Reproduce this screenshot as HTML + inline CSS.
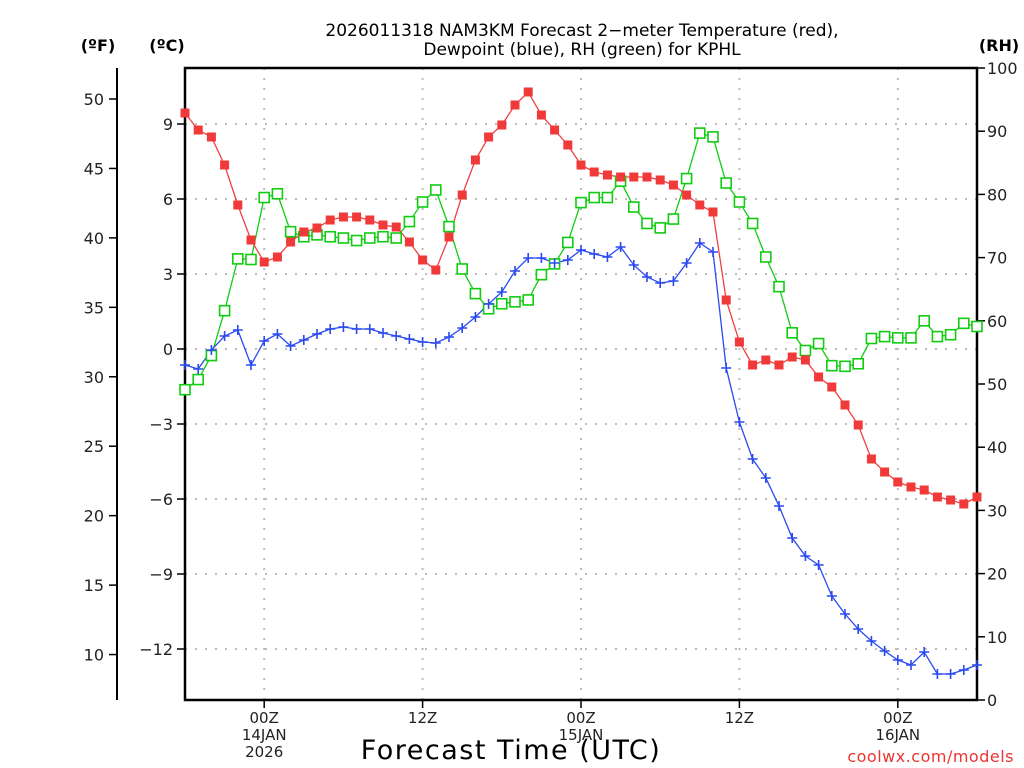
<!DOCTYPE html>
<html><head><meta charset="utf-8"><style>
html,body{margin:0;padding:0;background:#fff;}
svg{display:block;font-family:"DejaVu Sans","Liberation Sans",sans-serif;}
</style></head><body>
<svg id="chart" width="1024" height="768" viewBox="0 0 1024 768" xmlns="http://www.w3.org/2000/svg">
<g id="grid"></g>
<g id="axes"></g>
<g id="series"></g>
<text x="582" y="36" font-size="17" text-anchor="middle">2026011318 NAM3KM Forecast 2−meter Temperature (red),</text>
<text x="582" y="55" font-size="17" text-anchor="middle">Dewpoint (blue), RH (green) for KPHL</text>
<text x="98" y="51" font-size="16" font-weight="bold" text-anchor="middle">(ºF)</text>
<text x="167" y="51" font-size="16" font-weight="bold" text-anchor="middle">(ºC)</text>
<text x="999" y="51" font-size="16" font-weight="bold" text-anchor="middle">(RH)</text>
<text x="511" y="759" font-size="27" text-anchor="middle" letter-spacing="1.5">Forecast Time (UTC)</text>
<text x="1014" y="762" font-size="16" fill="#e33" text-anchor="end" letter-spacing="0.5">coolwx.com/models</text>
</svg>
<script>
const hours = [0,1,2,3,4,5,6,7,8,9,10,11,12,13,14,15,16,17,18,19,20,21,22,23,24,25,26,27,28,29,30,31,32,33,34,35,36,37,38,39,40,41,42,43,44,45,46,47,48,49,50,51,52,53,54,55,56,57,58,59,60];
const tempC = [9.44,8.76,8.48,7.36,5.76,4.36,3.48,3.68,4.28,4.68,4.84,5.16,5.28,5.28,5.16,4.96,4.88,4.28,3.56,3.16,4.48,6.16,7.56,8.48,8.96,9.76,10.28,9.36,8.76,8.16,7.36,7.08,6.96,6.88,6.88,6.88,6.76,6.56,6.16,5.76,5.48,1.96,0.28,-0.64,-0.44,-0.64,-0.32,-0.44,-1.12,-1.52,-2.24,-3.04,-4.4,-4.92,-5.32,-5.52,-5.64,-5.92,-6.04,-6.2,-5.92];
const dewC = [-0.64,-0.8,-0.04,0.52,0.76,-0.64,0.32,0.6,0.12,0.36,0.6,0.8,0.88,0.8,0.8,0.64,0.52,0.4,0.28,0.24,0.48,0.84,1.28,1.8,2.28,3.12,3.64,3.64,3.44,3.56,3.96,3.8,3.68,4.08,3.36,2.88,2.64,2.72,3.44,4.24,3.88,-0.76,-2.92,-4.4,-5.16,-6.28,-7.56,-8.28,-8.64,-9.88,-10.6,-11.2,-11.68,-12.08,-12.44,-12.64,-12.12,-13.0,-13.0,-12.84,-12.64];
const rh = [49.1,50.7,54.5,61.6,69.8,69.7,79.5,80.1,74.1,73.3,73.6,73.3,73.1,72.7,73.1,73.3,73.1,75.7,78.8,80.7,74.9,68.2,64.3,61.9,62.7,63.0,63.3,67.3,69.0,72.4,78.7,79.5,79.5,82.1,78.0,75.4,74.7,76.1,82.5,89.7,89.1,81.8,78.8,75.4,70.1,65.4,58.1,55.3,56.4,52.9,52.8,53.2,57.2,57.5,57.3,57.3,60.0,57.5,57.8,59.6,59.1];
const cTicks = [9,6,3,0,-3,-6,-9,-12];
const fTicks = [50,45,40,35,30,25,20,15,10];
const rhTicks = [0,10,20,30,40,50,60,70,80,90,100];
const xTickHours = [6,18,30,42,54];
const xTickLabels = [["00Z","14JAN","2026"],["12Z"],["00Z","15JAN"],["12Z"],["00Z","16JAN"]];

const L=185,R=977,T=68,B=700;
const xS = h => L + (R-L)*h/60;
const yC = c => 349 - 25*c;
const yF = f => yC((f-32)*5/9);
const yRH = v => B - (B-T)*v/100;
const NS="http://www.w3.org/2000/svg";
function mk(tag, attrs, parent){const e=document.createElementNS(NS,tag);for(const k in attrs)e.setAttribute(k,attrs[k]);parent.appendChild(e);return e;}
const grid=document.getElementById('grid'), axes=document.getElementById('axes'), ser=document.getElementById('series');

cTicks.forEach(c=>{
  const g=mk('line',{x1:L,x2:R,y1:yC(c),y2:yC(c),stroke:'#bbb','stroke-width':2,'stroke-dasharray':'2 8'},grid);
  
  
  const t=mk('line',{x1:L-8,x2:L,y1:yC(c),y2:yC(c),stroke:'#000','stroke-width':1.5},axes);
  
  
  const lb=mk('text',{x:L-12,y:yC(c)+6,'font-size':16,'text-anchor':'end',fill:'#222'},axes);
  lb.textContent = c<0 ? '−'+Math.abs(c) : String(c);
  
  
});
xTickHours.forEach((h,i)=>{
  const g=mk('line',{x1:xS(h),x2:xS(h),y1:T,y2:B,stroke:'#bbb','stroke-width':2,'stroke-dasharray':'2 8'},grid);
  
  
  const t=mk('line',{x1:xS(h),x2:xS(h),y1:B,y2:B+8,stroke:'#000','stroke-width':1.5},axes);
  
  
  xTickLabels[i].forEach((s,j)=>{
    const lb=mk('text',{x:xS(h),y:723+j*17,'font-size':15,'text-anchor':'middle',fill:'#222'},axes);
    lb.textContent=s;
    
    
  });
});
fTicks.forEach(f=>{
  const t=mk('line',{x1:109,x2:117,y1:yF(f),y2:yF(f),stroke:'#000','stroke-width':1.5},axes);
  
  
  const lb=mk('text',{x:104,y:yF(f)+6,'font-size':16,'text-anchor':'end',fill:'#222'},axes);
  lb.textContent=String(f);
  
  
});
rhTicks.forEach(v=>{
  const t=mk('line',{x1:R,x2:R+8,y1:yRH(v),y2:yRH(v),stroke:'#000','stroke-width':1.5},axes);
  
  
  const lb=mk('text',{x:R+10,y:yRH(v)+6,'font-size':16,'text-anchor':'start',fill:'#222'},axes);
  lb.textContent=String(v);
  
  
});
const fAx=mk('line',{x1:117,x2:117,y1:T,y2:B,stroke:'#000','stroke-width':2},axes);


const box=mk('path',{d:`M${L} ${T}H${R}V${B}H${L}Z`,fill:'none',stroke:'#000','stroke-width':2.5},axes);



function drawLine(vals, yfn, color, name){
  const pts=vals.map((v,i)=>xS(hours[i]).toFixed(1)+','+yfn(v).toFixed(1)).join(' ');
  const pl=mk('polyline',{points:pts,fill:'none',stroke:color,'stroke-width':1.3},ser);
  
  
}
drawLine(rh,yRH,'#1c1','rh');
drawLine(dewC,yC,'#2a4af0','dewpoint');
drawLine(tempC,yC,'#f04040','temperature');
rh.forEach((v,i)=>{
  const r=mk('rect',{x:xS(hours[i])-5,y:yRH(v)-5,width:10,height:10,fill:'#fff',stroke:'#1c1','stroke-width':1.6},ser);
  
  
});
dewC.forEach((v,i)=>{
  const x=xS(hours[i]), y=yC(v);
  const p=mk('path',{d:`M${x-5} ${y}H${x+5}M${x} ${y-5}V${y+5}`,stroke:'#2a4af0','stroke-width':1.6,fill:'none'},ser);
  
  
});
tempC.forEach((v,i)=>{
  const r=mk('rect',{x:xS(hours[i])-4.5,y:yC(v)-4.5,width:9,height:9,fill:'#f03a3a'},ser);
  
  
});
</script>
</body></html>
